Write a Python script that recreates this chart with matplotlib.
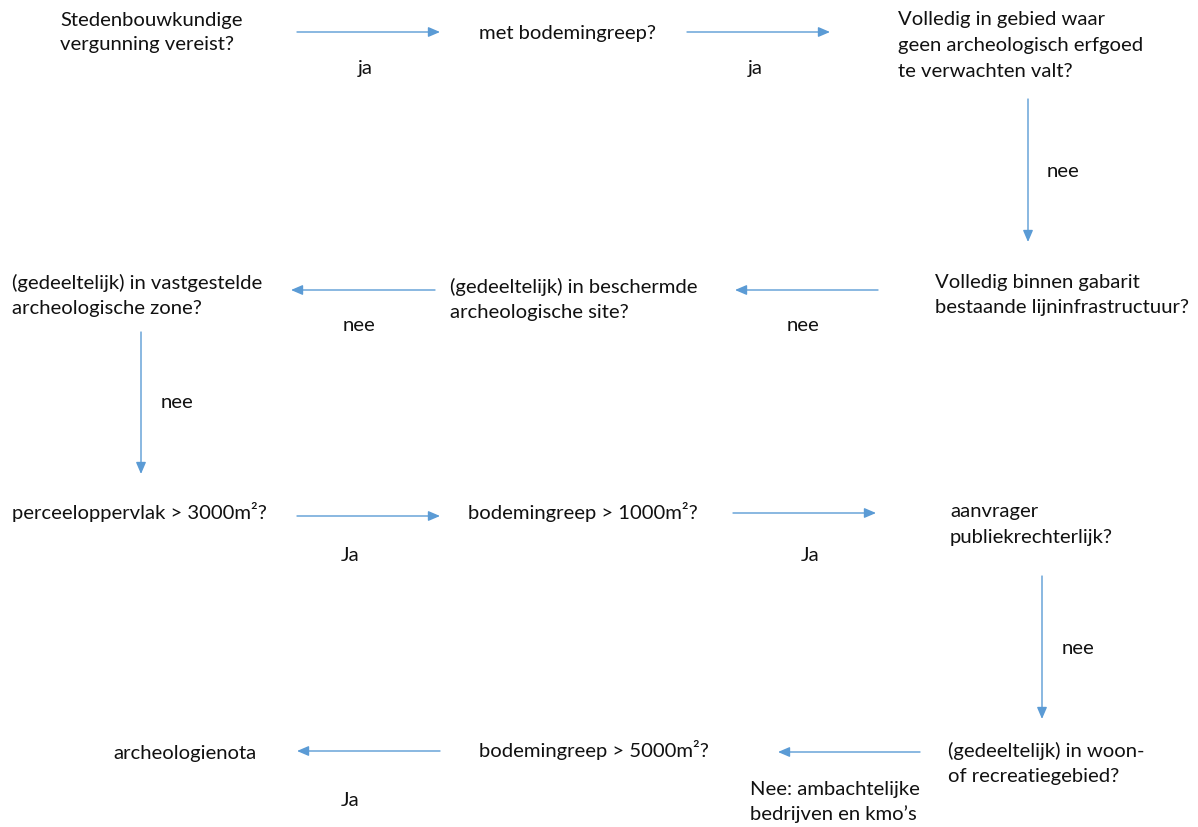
import matplotlib
matplotlib.use("Agg")
import matplotlib.pyplot as plt

# ---- content ----
node_texts = [
    ["Stedenbouwkundige", "vergunning vereist?"],
    ["met bodemingreep?"],
    ["Volledig in gebied waar", "geen archeologisch erfgoed", "te verwachten valt?"],
    ["Volledig binnen gabarit", "bestaande lijninfrastructuur?"],
    ["(gedeeltelijk) in beschermde", "archeologische site?"],
    ["(gedeeltelijk) in vastgestelde", "archeologische zone?"],
    ["perceeloppervlak > 3000m\u00b2?"],
    ["bodemingreep > 1000m\u00b2?"],
    ["aanvrager", "publiekrechterlijk?"],
    ["(gedeeltelijk) in woon-", "of recreatiegebied?"],
    ["bodemingreep > 5000m\u00b2?"],
    ["archeologienota"],
]
edge_labels = [
    ["ja"], ["ja"], ["nee"], ["nee"], ["nee"], ["nee"],
    ["Ja"], ["Ja"], ["nee"],
    ["Nee: ambachtelijke", "bedrijven en kmo\u2019s"],
    ["Ja"],
]

# ---- layout (pixel coordinates) ----
node_x = [60, 479, 898, 935, 450, 12, 12, 468, 950, 948, 479, 113]
node_base = [[26, 50], [39], [25, 51, 77], [288, 313], [293, 318], [289, 314],
             [519], [519], [517, 543], [757, 782], [757], [759]]
edge_start = [(297, 33), (687, 33), (1028, 100), (878, 291), (435, 291), (141, 333),
              (297, 517), (733, 514), (1042, 577), (920, 753), (440, 752)]
edge_end = [(440, 33), (830, 33), (1028, 243), (735, 291), (291, 291), (141, 475),
            (440, 517), (876, 514), (1042, 720), (778, 753), (297, 752)]
label_x = [365, 755, 1063, 803, 359, 177, 350, 810, 1078, 750, 350]
label_ha = ["center"] * 9 + ["left", "center"]
label_base = [[74], [74], [177], [331], [331], [408], [561], [561], [654], [795, 820], [806]]

W, H = 1198, 828
fig = plt.figure(figsize=(W / 100, H / 100), dpi=100)
ax = fig.add_axes([0, 0, 1, 1])
ax.set_xlim(0, W)
ax.set_ylim(H, 0)
ax.axis("off")

FONT = "Lato"
FS = 14.6
TXT = "#111111"
ARROW = "#5B9BD5"

for lines, x, bases in zip(node_texts, node_x, node_base):
    for ln, yb in zip(lines, bases):
        ax.text(x, yb, ln, ha="left", va="baseline", fontsize=FS, family=FONT, color=TXT)

for (x0, y0), (x1, y1) in zip(edge_start, edge_end):
    ax.annotate("", xy=(x1, y1), xytext=(x0, y0),
                arrowprops=dict(arrowstyle="-|>,head_length=0.7,head_width=0.3",
                                color=ARROW, lw=1.0, shrinkA=0, shrinkB=0))

for lines, x, ha, bases in zip(edge_labels, label_x, label_ha, label_base):
    for ln, yb in zip(lines, bases):
        ax.text(x, yb, ln, ha=ha, va="baseline", fontsize=FS, family=FONT, color=TXT)

fig.savefig("out.png", dpi=100, facecolor="white")
